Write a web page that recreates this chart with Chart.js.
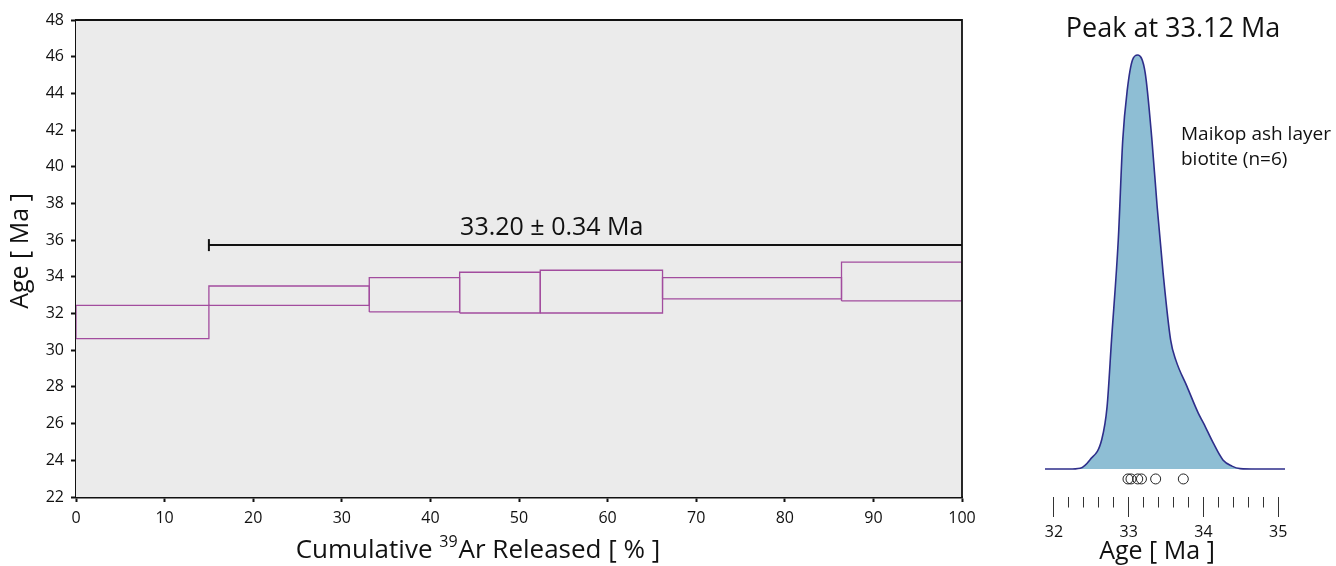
<!DOCTYPE html>
<html><head><meta charset="utf-8">
<script src="https://cdn.jsdelivr.net/npm/chart.js@4.4.1/dist/chart.umd.min.js"></script>
<style>
html,body{margin:0;padding:0;background:#fff;width:1336px;height:566px;overflow:hidden}
#spec{position:absolute;left:0;top:0}
#kde{position:absolute;left:1000px;top:0}
</style></head><body>
<canvas id="spec" width="1000" height="566"></canvas>
<canvas id="kde" width="336" height="566"></canvas>
<script>
// ---------- Left panel: 39Ar/40Ar age spectrum ----------
const stepStart = [0, 15.0, 33.1, 43.3, 52.4, 66.2, 86.4];
const stepEnd   = [15.0, 33.1, 43.3, 52.4, 66.2, 86.4, 100];
const ageLow    = [30.63, 32.45, 32.09, 32.03, 32.03, 32.80, 32.69];
const ageHigh   = [32.45, 33.50, 33.96, 34.25, 34.36, 33.96, 34.80];
const plateauFrom = 15.0, plateauTo = 100, plateauLevel = 35.73;
const plateauText = '33.20 \u00B1 0.34 Ma';
const plateauTextAt = {x: 53.7, y: 36.65};
const releaseTicks = [0, 10, 20, 30, 40, 50, 60, 70, 80, 90, 100];
const ageAxisTicks = [22, 24, 26, 28, 30, 32, 34, 36, 38, 40, 42, 44, 46, 48];

// ---------- Right panel: probability density ----------
const kdeAge     = [31.88, 32.20, 32.35, 32.48, 32.64, 32.71, 32.77, 32.86, 32.92, 32.98, 33.05, 33.12, 33.22, 33.31, 33.38, 33.46, 33.56, 33.63, 33.78, 33.93, 34.00, 34.13, 34.26, 34.38, 34.49, 34.70, 35.09];
const kdeDensity = [0, 0, 0.002, 0.022, 0.072, 0.150, 0.312, 0.553, 0.795, 0.915, 0.988, 1.0, 0.957, 0.795, 0.634, 0.473, 0.312, 0.263, 0.199, 0.135, 0.111, 0.063, 0.022, 0.007, 0.001, 0, 0];
const grainAges  = [32.99, 33.03, 33.12, 33.17, 33.36, 33.73];
const rugLevel = -0.024;
const kdeTicks = [32, 32.2, 32.4, 32.6, 32.8, 33, 33.2, 33.4, 33.6, 33.8, 34, 34.2, 34.4, 34.6, 34.8, 35];
const kdeTickLabels = ['32', '', '', '', '', '33', '', '', '', '', '34', '', '', '', '', '35'];
const peakTitle = 'Peak at 33.12 Ma';
const sampleLines = ['Maikop ash layer', 'biotite (n=6)'];

const FONT = "'Open Sans', sans-serif";
Chart.defaults.font.family = FONT;
Chart.defaults.color = '#111';
const PURPLE = '#A24C9E';

const stepSets = stepStart.map((s, i) => ({
  data: [{x: s, y: ageLow[i]}, {x: stepEnd[i], y: ageLow[i]}, {x: stepEnd[i], y: ageHigh[i]}, {x: s, y: ageHigh[i]}, {x: s, y: ageLow[i]}],
  showLine: true, borderColor: PURPLE, borderWidth: 1.3, pointRadius: 0, tension: 0, fill: false
}));
const plateauSet = {
  data: [{x: plateauFrom, y: plateauLevel}, {x: plateauTo, y: plateauLevel}],
  showLine: true, borderColor: '#111', borderWidth: 2, tension: 0,
  pointStyle: 'line', pointRotation: 90, pointRadius: [6, 0], pointBorderWidth: 2, pointBorderColor: '#111'
};

const specPlugin = {
  id: 'specDecor',
  beforeDatasetsDraw(chart) {
    const {ctx, chartArea: a} = chart;
    ctx.save(); ctx.fillStyle = '#EBEBEB';
    ctx.fillRect(a.left, a.top, a.right - a.left, a.bottom - a.top);
    ctx.restore();
  },
  afterDraw(chart) {
    const {ctx, chartArea: a, scales} = chart;
    ctx.save();
    ctx.strokeStyle = '#111'; ctx.lineWidth = 1.8;
    ctx.beginPath(); ctx.moveTo(a.left, a.top); ctx.lineTo(a.right, a.top); ctx.lineTo(a.right, a.bottom); ctx.stroke();
    // plateau label
    ctx.fillStyle = '#111'; ctx.font = '25px ' + FONT; ctx.textAlign = 'center'; ctx.textBaseline = 'middle';
    ctx.fillText(plateauText, scales.x.getPixelForValue(plateauTextAt.x), scales.y.getPixelForValue(plateauTextAt.y));
    // y axis title
    ctx.save(); ctx.translate(21, 251); ctx.rotate(-Math.PI / 2);
    ctx.font = '25px ' + FONT; ctx.fillText('Age [ Ma ]', 0, 0); ctx.restore();
    // x axis title with superscript
    const p1 = 'Cumulative ', sup = '39', p2 = 'Ar Released [ % ]';
    ctx.font = '26px ' + FONT; const w1 = ctx.measureText(p1).width, w3 = ctx.measureText(p2).width;
    ctx.font = '16px ' + FONT; const w2 = ctx.measureText(sup).width + 1;
    const cx = 478, total = w1 + w2 + w3, y = 551;
    let x = cx - total / 2;
    ctx.textAlign = 'left'; ctx.textBaseline = 'middle';
    ctx.font = '26px ' + FONT; ctx.fillText(p1, x, y); x += w1;
    ctx.font = '16px ' + FONT; ctx.fillText(sup, x, y - 9); x += w2;
    ctx.font = '26px ' + FONT; ctx.fillText(p2, x, y);
    ctx.restore();
  }
};

new Chart(document.getElementById('spec'), {
  type: 'scatter',
  data: {datasets: [...stepSets, plateauSet]},
  options: {
    responsive: false, animation: false, devicePixelRatio: 1,
    layout: {padding: {top: 20, right: 38, left: 0, bottom: 0}},
    plugins: {legend: {display: false}, tooltip: {enabled: false}},
    scales: {
      x: {
        type: 'linear', min: 0, max: 100,
        afterBuildTicks: s => { s.ticks = releaseTicks.map(v => ({value: v})); },
        afterFit: s => { s.height = 69; },
        border: {display: true, color: '#111', width: 2.5},
        grid: {drawOnChartArea: false, tickLength: 5, tickColor: '#111', tickWidth: 2},
        ticks: {font: {size: 16}, padding: 7, maxRotation: 0, autoSkip: false}
      },
      y: {
        type: 'linear', min: 22, max: 48,
        afterBuildTicks: s => { s.ticks = ageAxisTicks.map(v => ({value: v})); },
        afterFit: s => { s.width = 76; },
        border: {display: true, color: '#111', width: 2.5},
        grid: {drawOnChartArea: false, tickLength: 5, tickColor: '#111', tickWidth: 2},
        ticks: {font: {size: 16}, padding: 7, autoSkip: false}
      }
    }
  },
  plugins: [specPlugin]
});

// ---------- Right chart ----------
const kdePlugin = {
  id: 'kdeDecor',
  afterDraw(chart) {
    const {ctx} = chart;
    ctx.save(); ctx.fillStyle = '#111';
    ctx.font = '27px ' + FONT; ctx.textAlign = 'center'; ctx.textBaseline = 'middle';
    ctx.fillText(peakTitle, 173, 29);
    ctx.font = '25px ' + FONT;
    ctx.fillText('Age [ Ma ]', 157, 552);
    ctx.font = '19px ' + FONT; ctx.textAlign = 'left';
    sampleLines.forEach((t, i) => ctx.fillText(t, 181, 135 + i * 25));
    ctx.restore();
  }
};

new Chart(document.getElementById('kde'), {
  type: 'scatter',
  data: {datasets: [
    {data: grainAges.map(v => ({x: v, y: rugLevel})), pointStyle: 'circle', pointRadius: 5,
     pointBorderColor: '#222', pointBackgroundColor: 'rgba(0,0,0,0)', pointBorderWidth: 1, showLine: false},
    {data: kdeAge.map((v, i) => ({x: v, y: kdeDensity[i]})), showLine: true, fill: 'origin',
     backgroundColor: '#8EBED4', borderColor: '#2E2E8A', borderWidth: 1.6, pointRadius: 0,
     cubicInterpolationMode: 'monotone'}
  ]},
  options: {
    responsive: false, animation: false, devicePixelRatio: 1,
    layout: {padding: {top: 20, right: 51, left: 45, bottom: 0}},
    plugins: {legend: {display: false}, tooltip: {enabled: false}},
    scales: {
      x: {
        type: 'linear', min: 31.88, max: 35.09,
        afterBuildTicks: s => { s.ticks = kdeTicks.map(v => ({value: v})); },
        afterFit: s => { s.height = 69; },
        border: {display: false},
        grid: {drawOnChartArea: false, tickLength: 20, tickColor: '#333', tickWidth: 1,
               tickBorderDash: c => (c.tick && Number.isInteger(c.tick.value)) ? [] : [10.5, 60]},
        ticks: {font: {size: 16}, padding: 6, maxRotation: 0, autoSkip: false,
                callback: (v, i) => kdeTickLabels[i]}
      },
      y: {type: 'linear', min: -0.0676, max: 1.0845, display: false}
    }
  },
  plugins: [kdePlugin]
});
</script>
</body></html>
